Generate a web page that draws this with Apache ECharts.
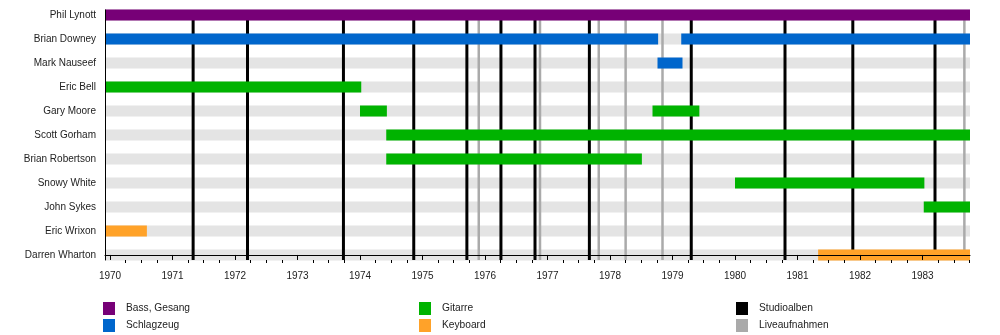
<!DOCTYPE html>
<html>
<head>
<meta charset="utf-8">
<script src="https://cdn.jsdelivr.net/npm/echarts@6/dist/echarts.min.js"></script>
<style>
html,body{margin:0;padding:0;background:#fff;}
#chart{width:1000px;height:335px;}
</style>
</head>
<body>
<div id="chart"></div>
<script>
// ---- data ----
const members = ['Phil Lynott','Brian Downey','Mark Nauseef','Eric Bell','Gary Moore','Scott Gorham','Brian Robertson','Snowy White','John Sykes','Eric Wrixon','Darren Wharton'];
const axisStart = 1969.92;
const axisEnd = 1983.76;
const yearTicks = [1970,1971,1972,1973,1974,1975,1976,1977,1978,1979,1980,1981,1982,1983];
const quarterTicks = [1970.25,1970.5,1970.75,1971.25,1971.5,1971.75,1972.25,1972.5,1972.75,1973.25,1973.5,1973.75,1974.25,1974.5,1974.75,1975.25,1975.5,1975.75,1976.25,1976.5,1976.75,1977.25,1977.5,1977.75,1978.25,1978.5,1978.75,1979.25,1979.5,1979.75,1980.25,1980.5,1980.75,1981.25,1981.5,1981.75,1982.25,1982.5,1982.75,1983.25,1983.5,1983.75];
// [member, start, end]
const bassVocals = [['Phil Lynott',1969.92,1983.76]];
const drums = [['Brian Downey',1969.92,1978.77],['Brian Downey',1979.14,1983.76],['Mark Nauseef',1978.76,1979.16]];
const guitar = [['Eric Bell',1969.92,1974.02],['Gary Moore',1974.0,1974.43],['Gary Moore',1978.68,1979.43],['Scott Gorham',1974.42,1983.76],['Brian Robertson',1974.42,1978.51],['Snowy White',1980.0,1983.03],['John Sykes',1983.02,1983.76]];
const keyboard = [['Eric Wrixon',1969.92,1970.59],['Darren Wharton',1981.33,1983.76]];
const studioAlbums = [1971.33,1972.20,1973.735,1974.86,1975.71,1976.255,1976.80,1977.67,1979.30,1980.80,1981.885,1983.20];
const liveRecordings = [1975.90,1976.88,1977.82,1978.25,1978.84,1983.67];

// ---- helpers ----
const N = members.length;
const rowOf = name => N - 1 - members.indexOf(name);
const toData = arr => arr.map(d => [d[1], d[2], rowOf(d[0])]);
const FONT = '"Liberation Sans", Arial, sans-serif';

function barRender(color){
  return function(params, api){
    const s = api.coord([api.value(0), api.value(2)]);
    const e = api.coord([api.value(1), api.value(2)]);
    const h = 11;
    return {type:'rect', shape:{x:s[0], y:s[1]-h/2, width:e[0]-s[0], height:h}, style:{fill:color}};
  };
}
function lineRender(color, w){
  return function(params, api){
    const x = api.coord([api.value(0), 0])[0];
    const cs = params.coordSys;
    return {type:'line', shape:{x1:x, y1:cs.y, x2:x, y2:cs.y+cs.height}, style:{stroke:color, lineWidth:w}};
  };
}

const stripeData = members.map((m,i) => [axisStart, axisEnd, N-1-i]);

const colors = {bass:'#770077', drums:'#0066cc', guitar:'#00b300', keys:'#ffa229', studio:'#000000', live:'#aaaaaa', stripe:'#e4e4e4'};

const chart = echarts.init(document.getElementById('chart'), null, {renderer:'canvas'});
const legendBase = {orient:'vertical', top:302, itemWidth:12, itemHeight:13, itemGap:4, padding:0, icon:'rect', selectedMode:false,
  textStyle:{fontFamily:FONT, fontSize:10.2, color:'#222', padding:[3,0,0,6]}};
chart.setOption({
  animation:false,
  backgroundColor:'#fff',
  grid:{left:105, right:30, top:10, bottom:75, containLabel:false},
  xAxis:[{
    type:'value', min:axisStart, max:axisEnd, position:'bottom', z:10,
    axisLine:{show:true, lineStyle:{color:'#000', width:1}},
    axisTick:{show:true, length:5, customValues:yearTicks, lineStyle:{color:'#000'}},
    axisLabel:{show:true, customValues:yearTicks, margin:11, formatter:v=>String(Math.round(v)), fontFamily:FONT, fontSize:10, color:'#222'},
    splitLine:{show:false}
  },{
    type:'value', min:axisStart, max:axisEnd, position:'bottom', z:10,
    axisLine:{show:false},
    axisTick:{show:true, length:3, customValues:quarterTicks, lineStyle:{color:'#000'}},
    axisLabel:{show:false},
    splitLine:{show:false}
  }],
  yAxis:{
    type:'value', min:-0.21, max:N-1+0.21, z:10,
    axisLine:{show:true, lineStyle:{color:'#000', width:1}},
    axisTick:{show:false},
    axisLabel:{show:true, customValues:members.map((m,i)=>i), margin:9, formatter:v=>members[N-1-Math.round(v)], fontFamily:FONT, fontSize:10, color:'#222'},
    splitLine:{show:false}
  },
  legend:[
    Object.assign({}, legendBase, {left:103, data:['Bass, Gesang','Schlagzeug']}),
    Object.assign({}, legendBase, {left:419, data:['Gitarre','Keyboard']}),
    Object.assign({}, legendBase, {left:736, data:['Studioalben','Liveaufnahmen']})
  ],
  series:[
    {type:'custom', name:'stripes', z:1, renderItem:barRender(colors.stripe), data:stripeData, encode:{x:[0,1], y:2}, silent:true},
    {type:'custom', name:'Studioalben', z:2, itemStyle:{color:colors.studio}, renderItem:lineRender(colors.studio,3), data:studioAlbums.map(v=>[v,0]), encode:{x:0,y:1}},
    {type:'custom', name:'Liveaufnahmen', z:2, itemStyle:{color:colors.live}, renderItem:lineRender(colors.live,2.5), data:liveRecordings.map(v=>[v,0]), encode:{x:0,y:1}},
    {type:'custom', name:'Bass, Gesang', z:3, itemStyle:{color:colors.bass}, renderItem:barRender(colors.bass), data:toData(bassVocals), encode:{x:[0,1], y:2}},
    {type:'custom', name:'Schlagzeug', z:3, itemStyle:{color:colors.drums}, renderItem:barRender(colors.drums), data:toData(drums), encode:{x:[0,1], y:2}},
    {type:'custom', name:'Gitarre', z:3, itemStyle:{color:colors.guitar}, renderItem:barRender(colors.guitar), data:toData(guitar), encode:{x:[0,1], y:2}},
    {type:'custom', name:'Keyboard', z:3, itemStyle:{color:colors.keys}, renderItem:barRender(colors.keys), data:toData(keyboard), encode:{x:[0,1], y:2}}
  ]
});
</script>
</body>
</html>
